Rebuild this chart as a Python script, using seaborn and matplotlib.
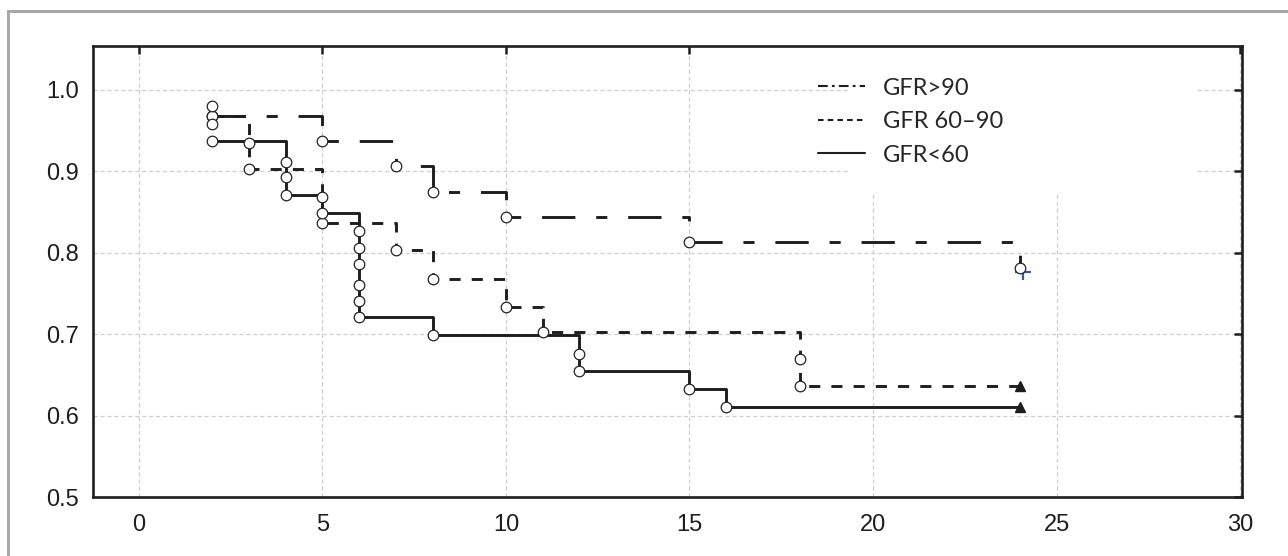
import numpy as np
import pandas as pd
import matplotlib
matplotlib.use("Agg")
import matplotlib.pyplot as plt
from matplotlib.lines import Line2D
from matplotlib.patches import Rectangle
import seaborn as sns

# event times / survival at each event (one circle per event)
gfr90_t = [2, 5, 7, 8, 10, 15, 24]
gfr90_s = [0.968, 0.937, 0.906, 0.875, 0.844, 0.813, 0.781]

gfr6090_t = [2, 3, 3, 5, 5, 7, 8, 10, 11, 18, 18]
gfr6090_s = [0.968, 0.935, 0.903, 0.869, 0.836, 0.803, 0.768, 0.734, 0.703, 0.669, 0.637]

gfr60_t = [2, 2, 2, 4, 4, 4, 5, 6, 6, 6, 6, 6, 6, 8, 12, 12, 15, 16]
gfr60_s = [0.980, 0.958, 0.937, 0.912, 0.893, 0.871, 0.849, 0.827, 0.806, 0.786,
           0.761, 0.741, 0.721, 0.699, 0.676, 0.655, 0.633, 0.610]

end_time = 24  # end of follow-up (censored marks)
labels = ["GFR>90", "GFR 60\u201390", "GFR<60"]

x_ticks = [0, 5, 10, 15, 20, 25, 30]
y_ticks = [0.5, 0.6, 0.7, 0.8, 0.9, 1.0]

sns.set_style("white")
plt.rcParams["font.family"] = ["Liberation Sans", "DejaVu Sans"]
plt.rcParams["lines.scale_dashes"] = False

fig = plt.figure(figsize=(12.88, 5.56), dpi=100)
ax = fig.add_axes([0.0722, 0.106, 0.892, 0.8113])

# outer gray frame
fig.patches.append(Rectangle((8 / 1288, -0.2), 1.2, 1.2 - 11 / 556,
                             transform=fig.transFigure, fill=False,
                             edgecolor="#a8a8a8", linewidth=2.2, zorder=-5))

styles = {
    "GFR>90": (0, (24, 15, 8, 15)),
    "GFR 60\u201390": (0, (8, 8)),
    "GFR<60": "-",
}
leg_styles = {
    "GFR>90": (0, (7, 3, 2, 3)),
    "GFR 60\u201390": (0, (4, 3)),
    "GFR<60": "-",
}

series = [(labels[0], gfr90_t, gfr90_s),
          (labels[1], gfr6090_t, gfr6090_s),
          (labels[2], gfr60_t, gfr60_s)]

for name, t, s in series:
    ev = pd.DataFrame({"time": t, "surv": s})
    step = ev.groupby("time", as_index=False)["surv"].min()
    if step["time"].iloc[-1] < end_time:
        step = pd.concat([step, pd.DataFrame({"time": [end_time],
                                              "surv": [step["surv"].iloc[-1]]})])
    sns.lineplot(data=step, x="time", y="surv", ax=ax, estimator=None, sort=False,
                 drawstyle="steps-post", color="#1e1e1e", linewidth=2.1,
                 linestyle=styles[name], zorder=3)
    sns.scatterplot(data=ev, x="time", y="surv", ax=ax, marker="o", s=58,
                    facecolor="white", edgecolor="#222222", linewidth=0.9, zorder=5)
    if t[-1] < end_time:
        ax.plot([end_time], [s[-1]], marker="^", color="#1e1e1e", markersize=7,
                linestyle="none", zorder=6)
    else:
        ax.plot([end_time + 0.08], [s[-1] - 0.004], marker="+", color="#3a5aa8",
                markersize=11, markeredgewidth=1.6, linestyle="none", zorder=4)

ax.set_xlim(-1.25, 30.05)
ax.set_ylim(0.5, 1.054)
ax.set_xticks(x_ticks)
ax.set_yticks(y_ticks)
ax.set_xticklabels([str(v) for v in x_ticks])
ax.set_yticklabels([f"{v:.1f}" for v in y_ticks])
ax.set_xlabel("")
ax.set_ylabel("")
ax.grid(True, color="#cfcfcf", linestyle=(0, (3, 2)), linewidth=0.9)
ax.set_axisbelow(True)
ax.tick_params(axis="both", direction="in", length=6, width=1.8, labelsize=17,
               top=True, right=True, colors="#1e1e1e")
ax.tick_params(axis="y", pad=10)
ax.tick_params(axis="x", pad=12)
for sp in ax.spines.values():
    sp.set_visible(True)
    sp.set_color("#1e1e1e")
    sp.set_linewidth(1.9)

# white legend box hiding the grid behind it
ax.add_patch(Rectangle((0.657, 0.67), 0.302, 0.328, transform=ax.transAxes,
                       facecolor="white", edgecolor="none", zorder=1))

handles = [Line2D([], [], color="#1e1e1e", linewidth=1.5, linestyle=leg_styles[n])
           for n in labels]
leg = ax.legend(handles, labels, loc="upper left", bbox_to_anchor=(0.631, 0.93),
                frameon=False, handlelength=2.0, handletextpad=0.75,
                labelspacing=0.53, borderpad=0, borderaxespad=0,
                prop={"family": ["Lato", "DejaVu Sans"], "size": 17})

fig.savefig("out.png", dpi=100)
